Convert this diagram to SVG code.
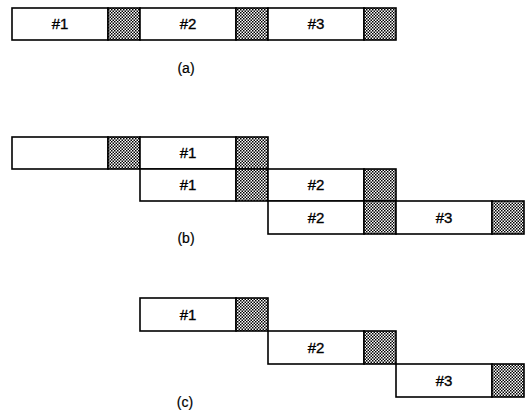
<svg xmlns="http://www.w3.org/2000/svg" width="528" height="414" viewBox="0 0 528 414">
<defs>
<pattern id="chk" width="3" height="3" patternUnits="userSpaceOnUse">
<rect width="3" height="3" fill="#ffffff"/>
<rect width="1.5" height="1.5" fill="#000"/>
<rect x="1.5" y="1.5" width="1.5" height="1.5" fill="#000"/>
</pattern>
</defs>
<style>
.w{fill:#fff;stroke:#000;stroke-width:1.6}
.g{fill:url(#chk);stroke:#000;stroke-width:1.6}
text{font-family:"Liberation Sans",Arial,sans-serif;font-size:15px;fill:#000;stroke:#000;stroke-width:0.35;text-anchor:middle}
.cap{font-size:14px;stroke-width:0.2}
</style>
<rect width="528" height="414" fill="#fff"/>
<g id="a">
<g id="a1"><rect class="w" x="12" y="8" width="96" height="32"/><text x="60" y="29">#1</text></g>
<g id="ag1"><rect class="g" x="108" y="8" width="32" height="32"/></g>
<g id="a2"><rect class="w" x="140" y="8" width="96" height="32"/><text x="188" y="29">#2</text></g>
<g id="ag2"><rect class="g" x="236" y="8" width="32" height="32"/></g>
<g id="a3"><rect class="w" x="268" y="8" width="96" height="32"/><text x="316" y="29">#3</text></g>
<g id="ag3"><rect class="g" x="364" y="8" width="32" height="32"/></g>
<text class="cap" x="186" y="73">(a)</text>
</g>
<g id="b">
<g id="b0"><rect class="w" x="12" y="137" width="96" height="32"/></g>
<g id="bg0"><rect class="g" x="108" y="137" width="32" height="32"/></g>
<g id="b1a"><rect class="w" x="140" y="137" width="96" height="32"/><text x="188" y="158">#1</text></g>
<g id="bg1a"><rect class="g" x="236" y="137" width="32" height="32"/></g>
<g id="b1b"><rect class="w" x="140" y="169" width="96" height="32"/><text x="188" y="190">#1</text></g>
<g id="bg1b"><rect class="g" x="236" y="169" width="32" height="32"/></g>
<g id="b2a"><rect class="w" x="268" y="169" width="96" height="32"/><text x="316" y="190">#2</text></g>
<g id="bg2a"><rect class="g" x="364" y="169" width="32" height="32"/></g>
<g id="b2b"><rect class="w" x="268" y="201" width="96" height="33"/><text x="316" y="223">#2</text></g>
<g id="bg2b"><rect class="g" x="364" y="201" width="32" height="33"/></g>
<g id="b3"><rect class="w" x="396" y="201" width="96" height="33"/><text x="444" y="223">#3</text></g>
<g id="bg3"><rect class="g" x="492" y="201" width="32" height="33"/></g>
<text class="cap" x="186" y="243">(b)</text>
</g>
<g id="c">
<g id="c1"><rect class="w" x="140" y="298" width="96" height="33"/><text x="188" y="320">#1</text></g>
<g id="cg1"><rect class="g" x="236" y="298" width="32" height="33"/></g>
<g id="c2"><rect class="w" x="268" y="331" width="96" height="33"/><text x="316" y="353">#2</text></g>
<g id="cg2"><rect class="g" x="364" y="331" width="32" height="33"/></g>
<g id="c3"><rect class="w" x="396" y="364" width="96" height="33"/><text x="444" y="386">#3</text></g>
<g id="cg3"><rect class="g" x="492" y="364" width="32" height="33"/></g>
<text class="cap" x="185" y="407">(c)</text>
</g>
</svg>
